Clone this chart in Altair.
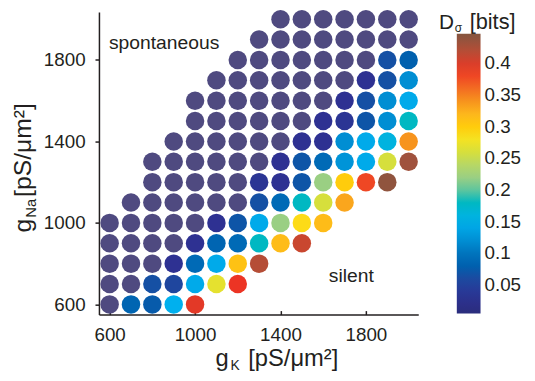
import altair as alt
import pandas as pd

S = None  # spontaneous region (drawn in the flat purple)

# rows of the parameter grid (g_Na), first g_K of each row, and D_sigma values
gna_rows = [2000, 1900, 1800, 1700, 1600, 1500, 1400, 1300, 1200, 1100, 1000, 900, 800, 700, 600]
gk_first = [1400, 1300, 1200, 1100, 1000, 1000, 900, 800, 800, 700, 600, 600, 600, 600, 600]
d_2000 = [S, S, S, S, S, S, S]
d_1900 = [S, S, S, S, S, S, S, S]
d_1800 = [S, S, S, S, S, S, S, 0.065, 0.08]
d_1700 = [S, S, S, S, S, S, S, 0.03, 0.065, 0.12]
d_1600 = [S, S, S, S, S, S, S, 0.03, 0.065, 0.12, 0.145]
d_1500 = [S, S, S, S, S, S, 0.03, 0.035, 0.07, 0.12, 0.18]
d_1400 = [S, S, S, S, S, S, 0.03, 0.03, 0.12, 0.145, 0.16, 0.34]
d_1300 = [S, S, S, S, S, S, 0.03, 0.07, 0.09, 0.125, 0.145, 0.26, 0.43]
d_1200 = [S, S, S, S, S, 0.035, 0.03, 0.07, 0.22, 0.30, 0.38, 0.44]
d_1100 = [S, S, S, S, S, S, 0.065, 0.09, 0.18, 0.26, 0.33]
d_1000 = [S, S, S, S, S, 0.03, 0.07, 0.145, 0.22, 0.29, 0.315]
d_900 = [S, S, S, S, 0.03, 0.085, 0.09, 0.18, 0.315, 0.41]
d_800 = [S, S, S, 0.03, 0.09, 0.145, 0.31, 0.42]
d_700 = [S, S, 0.065, 0.055, 0.145, 0.27, 0.39]
d_600 = [S, 0.085, 0.075, 0.15, 0.395]
d_rows = [d_2000, d_1900, d_1800, d_1700, d_1600, d_1500, d_1400, d_1300,
          d_1200, d_1100, d_1000, d_900, d_800, d_700, d_600]
gk_step = 100

axis_ticks = [600, 1000, 1400, 1800]
cbar_ticks = [0.05, 0.1, 0.15, 0.2, 0.25, 0.3, 0.35, 0.4]

# colour map (jet-like) stops
cmap_stops = [0.005, 0.03, 0.06, 0.08, 0.10, 0.125, 0.15, 0.18, 0.21, 0.23, 0.26,
              0.285, 0.30, 0.32, 0.34, 0.37, 0.39, 0.41, 0.43, 0.447]
cmap_colors = ["#2a2d7c", "#2e3192", "#1c4aa0", "#0060ae", "#0074bd", "#0094d8",
               "#00b0ee", "#00b8c2", "#8ccb8c", "#a8d37a", "#d6df3c", "#fce31c",
               "#ffcc0c", "#fdb71c", "#f7941d", "#f15a24", "#ec3424", "#c9472f",
               "#a0523d", "#85563f"]

ann_label = ["spontaneous", "silent"]
ann_gk = [597, 1626]
ann_gna = [1855, 712]

recs = []
for gna, g0, vals in zip(gna_rows, gk_first, d_rows):
    for i, v in enumerate(vals):
        recs.append({"gK": g0 + i * gk_step, "gNa": gna, "D": v})
df = pd.DataFrame(recs)
ann = pd.DataFrame({"gK": ann_gk, "gNa": ann_gna, "label": ann_label})

FONT = "Liberation Sans"
INK = "#231f20"
PURPLE = "#4f4a80"

xs = alt.Scale(domain=[550, 2045], nice=False, zero=False)
ys = alt.Scale(domain=[550, 2035], nice=False, zero=False)
xenc = alt.X("gK:Q", scale=xs,
             axis=alt.Axis(values=axis_ticks, title=None, grid=False, format="d",
                           tickSize={"expr": "-4"}, labelPadding=15))
yenc = alt.Y("gNa:Q", scale=ys,
             axis=alt.Axis(values=axis_ticks, title=None, grid=False, format="d",
                           tickSize=4, labelPadding=10))

base = alt.Chart(df)
spont = base.transform_filter("datum.D == null").mark_circle(
    size=350, opacity=1, color=PURPLE).encode(x=xenc, y=yenc)
colored = base.transform_filter("datum.D != null").mark_circle(
    size=350, opacity=1).encode(
    x=xenc, y=yenc,
    color=alt.Color("D:Q",
                    scale=alt.Scale(domain=cmap_stops, range=cmap_colors, interpolate="rgb"),
                    legend=alt.Legend(orient="none", legendX=362, legendY=22,
                                      direction="vertical", title=None,
                                      gradientLength=283, gradientThickness=24,
                                      gradientStrokeWidth=0, values=cbar_ticks,
                                      format=".2~f", labelOffset=4, labelOverlap=False)))

notes = alt.Chart(ann).mark_text(align="left", baseline="alphabetic", font=FONT,
                                 fontSize=19.5, color=INK).encode(
    x=xenc, y=yenc, text="label:N")


def piece(txt, px, py, size, angle=0):
    return alt.Chart(pd.DataFrame({"t": [txt]})).mark_text(
        x=px, y=py, fontSize=size, angle=angle, align="left",
        baseline="alphabetic", font=FONT, color=INK).encode(text="t:N")


titles = [
    # x-axis title g_K [pS/um2]
    piece("g", 118, 358, 24),
    piece("K", 133, 362, 14),
    piece("[pS/μm²]", 151, 358, 24),
    # y-axis title g_Na [pS/um2]
    piece("g", -69, 223, 25, 270),
    piece("Na", -64, 208, 15, 270),
    piece("[pS/μm²]", -69, 187, 25, 270),
    # colorbar title D_sigma [bits]
    piece("D", 344, 17, 21),
    piece("σ", 360, 20, 12),
    piece("[bits]", 375, 17, 22),
]

chart = alt.layer(spont, colored, notes, *titles).properties(
    width=323, height=306,
    autosize=alt.AutoSizeParams(type="none"),
    padding={"left": 92, "top": 2, "right": 110, "bottom": 57},
).configure_view(strokeWidth=0).configure_axis(
    labelFont=FONT, labelFontSize=19, labelColor=INK,
    domainColor=INK, domainWidth=1.5, tickColor=INK, tickWidth=1.5,
).configure_legend(labelFont=FONT, labelFontSize=19, labelColor=INK)

chart.save("out.html", embed_options={"renderer": "svg", "actions": False})
